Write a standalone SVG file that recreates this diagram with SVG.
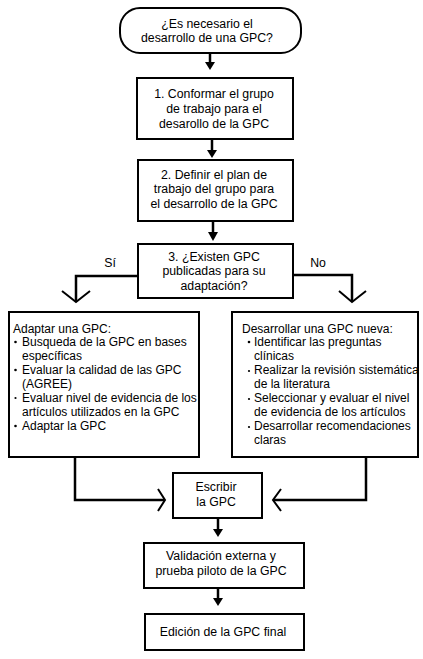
<svg xmlns="http://www.w3.org/2000/svg" width="423" height="659" viewBox="0 0 423 659">
<style>
.box{fill:#fff;stroke:#000;stroke-width:2}
.t{font-family:"Liberation Sans",Arial,sans-serif;font-size:12.3px;fill:#000;text-anchor:middle}
.l{font-family:"Liberation Sans",Arial,sans-serif;font-size:12px;fill:#000}
.ln{fill:none;stroke:#000;stroke-width:2.5}
.ch{fill:none;stroke:#000;stroke-width:2}
.hd{fill:#000}
</style>
<rect width="423" height="659" fill="#fff"/>
<g id="connectors">
  <line class="ln" x1="210" y1="53" x2="210" y2="63"/><polygon class="hd" points="205,62 215,62 210,70"/>
  <line class="ln" x1="212" y1="139" x2="212" y2="151"/><polygon class="hd" points="207,150 217,150 212,158"/>
  <line class="ln" x1="213" y1="221" x2="213" y2="233"/><polygon class="hd" points="208,232 218,232 213,241"/>
  <line class="ln" x1="218" y1="518" x2="218" y2="530"/><polygon class="hd" points="213,529 223,529 218,537"/>
  <line class="ln" x1="218" y1="588" x2="218" y2="599"/><polygon class="hd" points="213,598 223,598 218,606"/>
  <polyline class="ln" points="138,276 76,276 76,302"/><polyline class="ch" points="62,291 76,302 90,291"/>
  <polyline class="ln" points="293,275 352,275 352,302"/><polyline class="ch" points="339,291 352,302 366,291"/>
  <polyline class="ln" points="75,457 75,500 164,500"/><polyline class="ch" points="158,489 165,500 158,511"/>
  <polyline class="ln" points="366,457 366,500 274,500"/><polyline class="ch" points="281,489 273,500 281,511"/>
  <text class="t" x="110" y="267">Sí</text>
  <text class="t" x="318" y="267">No</text>
</g>
<g id="start">
  <rect class="box" x="120" y="8" width="181" height="45" rx="20"/>
  <text class="t" x="207" y="28">¿Es necesario el</text>
  <text class="t" x="207" y="42">desarrollo de una GPC?</text>
</g>
<g id="step1">
  <rect class="box" x="137" y="78" width="156" height="61"/>
  <text class="t" x="214" y="98">1. Conformar el grupo</text>
  <text class="t" x="214" y="113">de trabajo para el</text>
  <text class="t" x="214" y="128">desarollo de la GPC</text>
</g>
<g id="step2">
  <rect class="box" x="138" y="160" width="155" height="61"/>
  <text class="t" x="214" y="179">2. Definir el plan de</text>
  <text class="t" x="214" y="193">trabajo del grupo para</text>
  <text class="t" x="214" y="208">el desarrollo de la GPC</text>
</g>
<g id="step3">
  <rect class="box" x="138" y="244" width="155" height="54"/>
  <text class="t" x="214" y="261">3. ¿Existen GPC</text>
  <text class="t" x="214" y="275">publicadas para su</text>
  <text class="t" x="214" y="290">adaptación?</text>
</g>
<g id="adaptar">
  <rect class="box" x="9" y="312" width="190" height="145"/>
  <text class="l" x="13" y="333">Adaptar una GPC:</text>
  <circle cx="15.5" cy="342" r="1.3"/><text class="l" x="22" y="346">Busqueda de la GPC en bases</text>
  <text class="l" x="22" y="360">específicas</text>
  <circle cx="15.5" cy="370" r="1.3"/><text class="l" x="22" y="374">Evaluar la calidad de las GPC</text>
  <text class="l" x="22" y="388">(AGREE)</text>
  <circle cx="15.5" cy="398" r="1.1"/><text class="l" x="22" y="402">Evaluar nivel de evidencia de los</text>
  <text class="l" x="22" y="416">artículos utilizados en la GPC</text>
  <circle cx="15.5" cy="426" r="1.3"/><text class="l" x="22" y="430">Adaptar la GPC</text>
</g>
<g id="desarrollar">
  <rect class="box" x="232" y="312" width="186" height="145"/>
  <text class="l" x="242" y="333">Desarrollar una GPC nueva:</text>
  <circle cx="249" cy="342" r="1.3"/><text class="l" x="254" y="346">Identificar las preguntas</text>
  <text class="l" x="254" y="360">clínicas</text>
  <circle cx="249" cy="371" r="1.1"/><text class="l" x="254" y="374">Realizar la revisión sistemática</text>
  <text class="l" x="254" y="388">de la literatura</text>
  <circle cx="249" cy="399" r="1.1"/><text class="l" x="254" y="402">Seleccionar y evaluar el nivel</text>
  <text class="l" x="254" y="416">de evidencia de los artículos</text>
  <circle cx="249" cy="427" r="1.1"/><text class="l" x="254" y="430">Desarrollar recomendaciones</text>
  <text class="l" x="254" y="444">claras</text>
</g>
<g id="escribir">
  <rect class="box" x="173" y="473" width="89" height="45"/>
  <text class="t" x="216" y="491">Escribir</text>
  <text class="t" x="216" y="506">la GPC</text>
</g>
<g id="validacion">
  <rect class="box" x="144" y="543" width="160" height="45"/>
  <text class="t" x="221" y="560">Validación externa y</text>
  <text class="t" x="221" y="575">prueba piloto de la GPC</text>
</g>
<g id="final">
  <rect class="box" x="145" y="614" width="159" height="36"/>
  <text class="t" x="223" y="636">Edición de la GPC final</text>
</g>
</svg>
